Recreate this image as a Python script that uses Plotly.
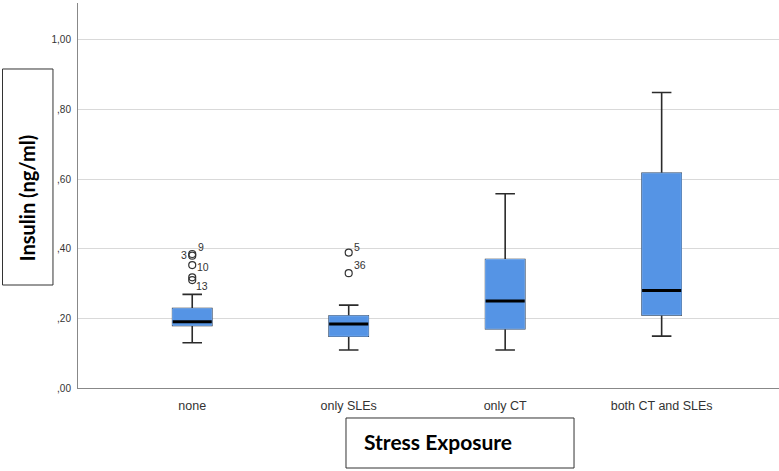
import plotly.graph_objects as go

categories = ["none", "only SLEs", "only CT", "both CT and SLEs"]
lower_whisker = [0.130, 0.109, 0.109, 0.149]
q1 = [0.180, 0.149, 0.170, 0.210]
median = [0.190, 0.184, 0.250, 0.280]
q3 = [0.228, 0.207, 0.369, 0.617]
upper_whisker = [0.269, 0.238, 0.558, 0.849]

outlier_group = [0, 0, 0, 0, 0, 1, 1]
outlier_value = [0.385, 0.380, 0.353, 0.318, 0.310, 0.389, 0.330]
outlier_label = ["9", "3", "10", "", "13", "5", "36"]

y_tick_vals = [0.0, 0.2, 0.4, 0.6, 0.8, 1.0]
y_tick_text = [",00", ",20", ",40", ",60", ",80", "1,00"]

xpos = list(range(len(categories)))
BOX_W = 0.25
FILL = "#5594E5"
EDGE = "#74AAEE"

fig = go.Figure()

# whiskers + caps (black)
fig.add_trace(go.Box(
    x=xpos, q1=q1, median=median, q3=q3,
    lowerfence=lower_whisker, upperfence=upper_whisker,
    width=BOX_W, whiskerwidth=0.5, fillcolor=FILL,
    line=dict(color="#2b2b2b", width=1.6), boxpoints=False,
    hoverinfo="skip", showlegend=False,
))
# blue box body on top
fig.add_trace(go.Box(
    x=xpos, q1=q1, median=median, q3=q3,
    lowerfence=q1, upperfence=q3,
    width=BOX_W, whiskerwidth=0, fillcolor=FILL,
    line=dict(color=EDGE, width=1), boxpoints=False,
    hoverinfo="skip", showlegend=False,
))
# median lines
mx, my = [], []
for i, m in zip(xpos, median):
    mx += [i - BOX_W / 2, i + BOX_W / 2, None]
    my += [m, m, None]
fig.add_trace(go.Scatter(x=mx, y=my, mode="lines",
                         line=dict(color="#000000", width=3),
                         hoverinfo="skip", showlegend=False))
# outliers
fig.add_trace(go.Scatter(
    x=outlier_group, y=outlier_value, mode="markers",
    marker=dict(symbol="circle-open", size=7, color="#333333",
                line=dict(width=1.2, color="#333333")),
    hoverinfo="skip", showlegend=False,
))

label_shift = {"9": (9, 7), "3": (-8, 1), "10": (11, -2), "13": (10, -6),
               "5": (8, 6), "36": (11, 8)}
for g, v, lab in zip(outlier_group, outlier_value, outlier_label):
    if not lab:
        continue
    dx, dy = label_shift[lab]
    fig.add_annotation(x=g, y=v, text=lab, showarrow=False,
                       xshift=dx, yshift=dy,
                       font=dict(family="Liberation Sans", size=10.5, color="#333333"))

# axis title boxes (paper coords: x=(px-78)/701, y=(388-py)/385)
fig.add_shape(type="rect", xref="paper", yref="paper",
              x0=-0.1077, x1=-0.0357, y0=0.2675, y1=0.8286,
              line=dict(color="#333333", width=1), fillcolor="white", layer="above")
fig.add_annotation(xref="paper", yref="paper", x=-0.0735, y=0.494,
                   xanchor="center", yanchor="middle",
                   text="<b>Insulin (ng/ml)</b>", textangle=-90, showarrow=False,
                   font=dict(family="Lato", size=20, color="#000000"))
fig.add_shape(type="rect", xref="paper", yref="paper",
              x0=0.3823, x1=0.7076, y0=-0.2078, y1=-0.0779,
              line=dict(color="#333333", width=1), fillcolor="white", layer="above")
fig.add_annotation(xref="paper", yref="paper", x=0.5136, y=-0.1395,
                   xanchor="center", yanchor="middle",
                   text="<b>Stress Exposure</b>", showarrow=False,
                   font=dict(family="Lato", size=21, color="#000000"))

fig.update_layout(
    width=779, height=471,
    margin=dict(l=78, r=0, t=3, b=83),
    paper_bgcolor="white", plot_bgcolor="white",
    boxmode="overlay", showlegend=False,
    font=dict(family="Liberation Sans", size=11, color="#333333"),
)
fig.update_xaxes(
    range=[-0.73, 3.75], tickvals=xpos, ticktext=categories,
    showgrid=False, zeroline=False, showline=True, linecolor="#888888",
    linewidth=1, ticks="", ticklabelstandoff=6,
    tickfont=dict(size=12.5, color="#333333"),
)
fig.update_yaxes(
    range=[0, 1.106], tickvals=y_tick_vals, ticktext=y_tick_text,
    showgrid=True, gridcolor="#d9d9d9", gridwidth=1, zeroline=False,
    showline=True, linecolor="#888888", linewidth=1, ticks="",
    ticklabelstandoff=4, tickfont=dict(size=10, color="#333333"),
)

fig.write_html("out.html", config={"displayModeBar": False},
               post_script="document.body.style.margin='0px';")
